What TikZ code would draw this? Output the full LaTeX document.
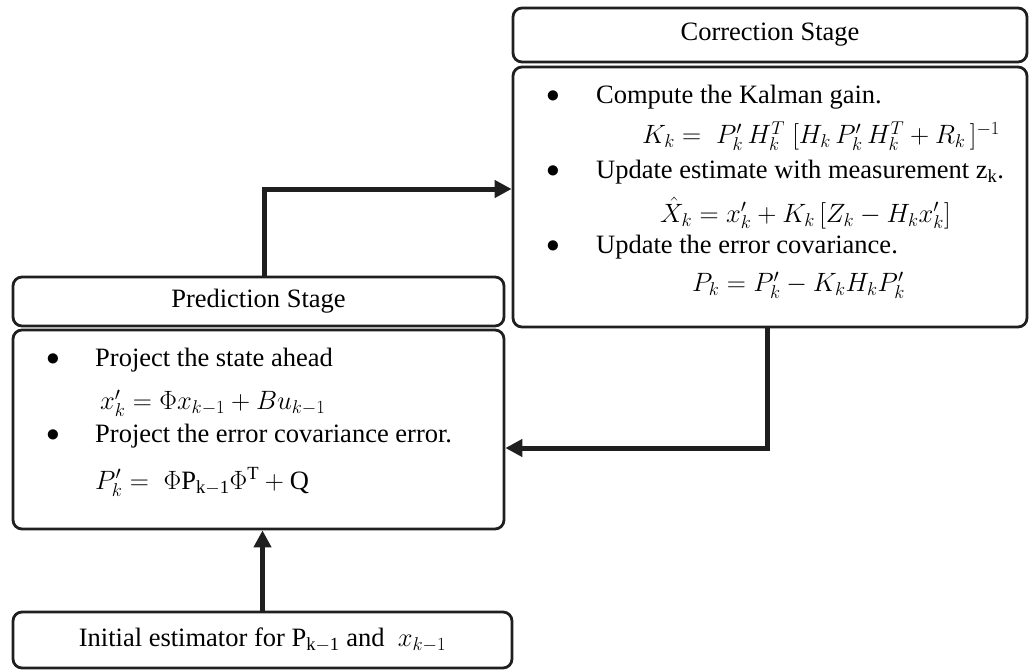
\documentclass[tikz,border=0pt]{standalone}
\usepackage{fix-cm}
\usepackage{fontspec}
\setmainfont{Liberation Serif}
\usetikzlibrary{arrows.meta}
\newcommand\figfs{\fontsize{26.5}{30}\selectfont}
\begin{document}
\begin{tikzpicture}[x=1pt,y=-1pt,
  box/.style={draw=black!88, line width=2.8pt, rounded corners=9pt, inner sep=0, font=\figfs},
  txt/.style={inner sep=0, anchor=west, font=\figfs},
  bul/.style={inner sep=0, font=\figfs},
  arr/.style={draw=black!88, line width=5pt, -{Triangle[length=17pt,width=17pt]}}]
\useasboundingbox (0,0) rectangle (1029,672);
% Correction stage
\node[box, minimum width=514, minimum height=54] (ch) at (770,35) {Correction Stage};
\node[box, minimum width=514, minimum height=260] (cb) at (770,197) {};
\node[bul] (cb1) at (553,97) {$\bullet$};
\node[txt] (ct1) at (596,97) {Compute the Kalman gain.};
\node[txt] (ce1) at (642,136) {$K_k = \;P_k^{\prime}\, H_k^{T}\;[H_k\, P_k^{\prime}\, H_k^{T} + R_k\,]^{-1}$};
\node[bul] (cb2) at (553,172) {$\bullet$};
\node[txt] (ct2) at (596,172) {Update estimate with measurement z\textsubscript{k}.};
\node[txt] (ce2) at (660,213) {$\hat{X}_k = x_k^{\prime} + K_k\,[Z_k - H_k x_k^{\prime}]$};
\node[bul] (cb3) at (553,247) {$\bullet$};
\node[txt] (ct3) at (596,247) {Update the error covariance.};
\node[txt] (ce3) at (692,285) {$P_k = P_k^{\prime} - K_k H_k P_k^{\prime}$};
% Prediction stage
\node[box, minimum width=491, minimum height=49] (ph) at (258.5,301.5) {Prediction Stage};
\node[box, minimum width=491, minimum height=199] (pb) at (258.5,429.5) {};
\node[bul] (pb1) at (53,360) {$\bullet$};
\node[txt] (pt1) at (95,360) {Project the state ahead};
\node[txt] (pe1) at (100,403) {$x_k^{\prime} = \Phi x_{k-1} + B u_{k-1}$};
\node[bul] (pb2) at (53,436) {$\bullet$};
\node[txt] (pt2) at (95,436) {Project the error covariance error.};
\node[txt] (pe2) at (95,482) {$P_k^{\prime} = \;\Phi\mathrm{P}_{\mathrm{k-1}}\Phi^{\mathrm{T}} + \mathrm{Q}$};
% Initial
\node[box, minimum width=499, minimum height=56] (in) at (262.5,640) {Initial estimator for P$_{\mathrm{k-1}}$ and\ \ $x_{k-1}$};
% Connectors
\draw[arr] ([xshift=5.5pt]ph.north) |- ([yshift=8pt]cb.west);
\draw[arr] ([xshift=-3pt]cb.south) |- ([yshift=-18.5pt]pb.east);
\draw[arr] (in.north) -- (in.north |- pb.south);
\end{tikzpicture}
\end{document}
